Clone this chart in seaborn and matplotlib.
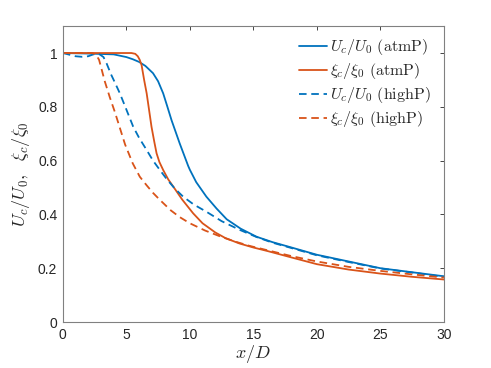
import matplotlib
matplotlib.use("Agg")
import matplotlib.pyplot as plt
import seaborn as sns
import pandas as pd

# ---- data ----
x_u_atm = [0, 2, 4, 4.5, 5, 5.5, 6.0, 6.5, 7.1, 7.5, 7.9, 8.2, 8.56, 9.2, 9.87, 10.0, 10.5,
           11.3, 12.1, 12.9, 14, 15.25, 16.5, 18, 20, 22.5, 25, 27.5, 30]
y_u_atm = [1, 0.998, 0.995, 0.99, 0.985, 0.977, 0.967, 0.952, 0.925, 0.895, 0.85, 0.805,
           0.75, 0.664, 0.58, 0.566, 0.52, 0.466, 0.422, 0.382, 0.347, 0.317, 0.297, 0.277,
           0.25, 0.225, 0.2, 0.185, 0.17]

x_xi_atm = [0, 5.4, 5.7, 5.9, 6.05, 6.2, 6.4, 6.6, 6.8, 6.98, 7.2, 7.38, 7.6, 7.9, 8.3,
            8.7, 9.4, 10.26, 11, 12, 12.8, 13.9, 15, 16.1, 18, 20, 22.5, 25, 27.5, 30]
y_xi_atm = [1, 1, 0.997, 0.988, 0.975, 0.955, 0.9, 0.85, 0.785, 0.726, 0.67, 0.627, 0.595,
            0.565, 0.53, 0.503, 0.455, 0.404, 0.367, 0.333, 0.312, 0.292, 0.277, 0.264,
            0.24, 0.215, 0.195, 0.18, 0.168, 0.158]

x_u_high = [0, 0.5, 1.0, 1.5, 2.0, 2.4, 2.9, 3.2, 3.44, 3.8, 4.1, 4.49, 5.0, 5.54, 6.0,
            6.59, 7.1, 7.64, 8.2, 8.8, 9.47, 10.3, 11.3, 12.5, 13.9, 15.25, 16.5, 18, 20,
            22.5, 25, 27.5, 30]
y_u_high = [1, 0.994, 0.988, 0.986, 0.988, 0.995, 0.995, 0.985, 0.962, 0.92, 0.89, 0.85,
            0.79, 0.726, 0.685, 0.64, 0.6, 0.565, 0.53, 0.497, 0.466, 0.437, 0.41, 0.375,
            0.343, 0.316, 0.295, 0.275, 0.248, 0.223, 0.199, 0.184, 0.168]

x_xi_high = [0, 2.3, 2.6, 2.85, 3.05, 3.3, 3.7, 4.1, 4.5, 4.9, 5.5, 6.06, 6.6, 7.1, 7.64,
             8.5, 9.2, 10.0, 11.2, 12.4, 13.5, 14.7, 16, 18, 20, 22.5, 25, 27.5, 30]
y_xi_high = [1, 1, 0.995, 0.975, 0.94, 0.895, 0.835, 0.78, 0.72, 0.66, 0.59, 0.54, 0.508,
             0.48, 0.454, 0.415, 0.39, 0.367, 0.34, 0.318, 0.3, 0.283, 0.268, 0.245, 0.225,
             0.205, 0.19, 0.177, 0.165]

labels = [r'$U_c/U_0\ \mathrm{(atmP)}$', r'$\xi_c/\xi_0\ \mathrm{(atmP)}$',
          r'$U_c/U_0\ \mathrm{(highP)}$', r'$\xi_c/\xi_0\ \mathrm{(highP)}$']

sns.set_style("white")
plt.rcParams['font.family'] = ['Liberation Sans', 'DejaVu Sans']
plt.rcParams['mathtext.fontset'] = 'cm'

blue = '#0072BD'
orange = '#D95319'

fig = plt.figure(figsize=(4.91, 3.68), dpi=100)
ax = fig.add_axes([0.128, 0.125, 0.776, 0.804])

series = [(x_u_atm, y_u_atm, blue, '-'), (x_xi_atm, y_xi_atm, orange, '-'),
          (x_u_high, y_u_high, blue, '--'), (x_xi_high, y_xi_high, orange, '--')]
for (xs, ys, c, ls), lab in zip(series, labels):
    df = pd.DataFrame({'x': xs, 'y': ys})
    sns.lineplot(data=df, x='x', y='y', ax=ax, color=c, linestyle=ls, linewidth=1.3,
                 label=lab, sort=False)

for line in ax.get_lines():
    if line.get_linestyle() == '--':
        line.set_dashes((4.2, 2.6))

ax.set_xlim(0, 30)
ax.set_ylim(0, 1.1)
ax.set_xticks([0, 5, 10, 15, 20, 25, 30])
ax.set_yticks([0, 0.2, 0.4, 0.6, 0.8, 1.0])
ax.set_yticklabels(['0', '0.2', '0.4', '0.6', '0.8', '1'])
ax.tick_params(direction='in', length=3, width=0.6, top=True, right=True,
               labelsize=10, colors='#262626', pad=4)
for sp in ax.spines.values():
    sp.set_visible(True)
    sp.set_color('#808080')
    sp.set_linewidth(0.8)

ax.set_xlabel(r'$x/D$', fontsize=13, color='#262626', labelpad=1)
ax.set_ylabel(r'$U_c/U_0,\ \ \xi_c/\xi_0$', fontsize=13, color='#262626', labelpad=4)

leg = ax.legend(loc='upper right', frameon=False, fontsize=11.5, handlelength=1.75,
                handletextpad=0.2, labelspacing=0.25, borderaxespad=0.3,
                bbox_to_anchor=(0.995, 1.0))
for t in leg.get_texts():
    t.set_color('#262626')

fig.savefig('out.png', dpi=100)
